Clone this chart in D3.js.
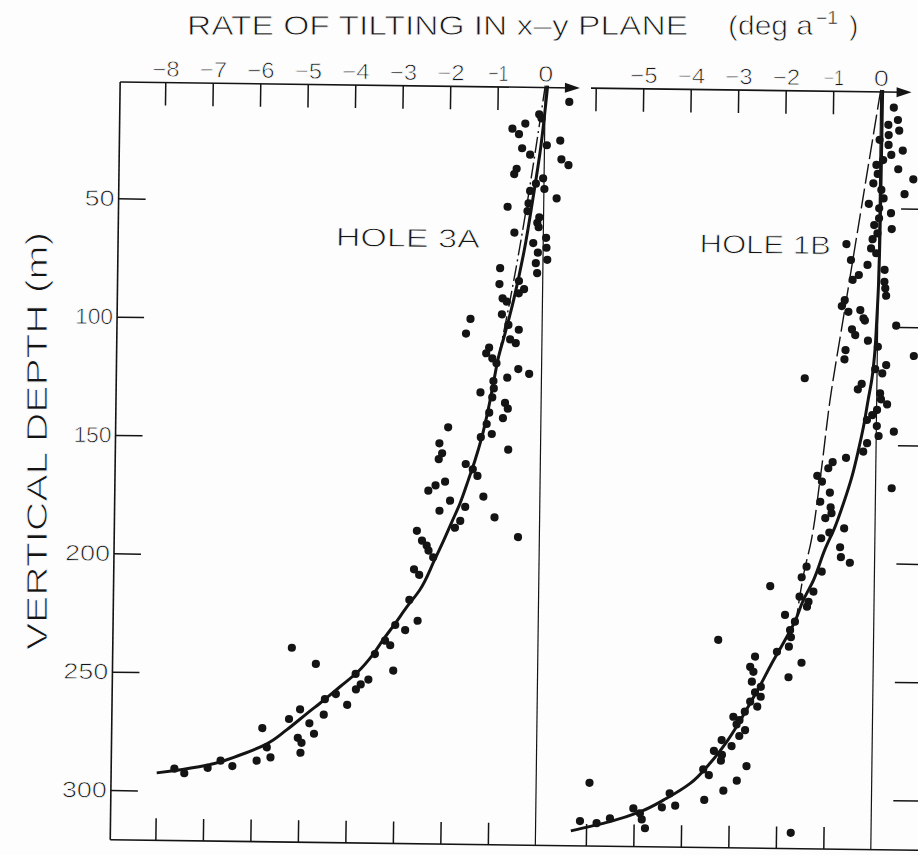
<!DOCTYPE html>
<html><head><meta charset="utf-8">
<script src="https://cdn.jsdelivr.net/npm/d3@7"></script>
<style>
body{margin:0;background:#fdfdfd}
svg{display:block}
text{font-family:"Liberation Sans",Arial,sans-serif;fill:#141414;stroke:#fdfdfd;stroke-width:0.8px}
</style>
</head><body>
<svg id="chart" width="918" height="855"></svg>
<script>
// ---- data: [rate of tilting (deg/a), vertical depth (m)] ----
const hole3A = [
[0.51,6.8],[-0.12,12.2],[-0.07,13.9],[-0.41,16.2],[-0.68,18.4],[-0.54,20.7],[0.33,23.2],[0.05,25.2],[-0.47,26.6],[-0.30,29.3],
[0.36,31.1],[0.51,33.5],[-0.58,35.3],[-0.63,37.6],[-0.02,39.2],[-0.17,41.5],[0.01,43.7],[-0.29,44.6],[0.27,47.6],[-0.32,49.8],
[-0.76,51.4],[-0.34,53.1],[-0.09,55.7],[-0.13,58.0],[-0.10,59.9],[-0.61,62.3],[0.06,64.3],[-0.21,66.6],[0.07,68.5],[-0.11,70.6],
[0.09,73.6],[-0.15,75.1],[-0.90,77.4],[-0.12,79.3],[-0.91,84.1],[-0.50,82.7],[-0.39,86.1],[-0.50,87.9],[-0.84,90.1],[-0.75,91.5],
[-1.51,99.0],[-1.60,105.2],[-0.85,96.9],[-0.71,101.3],[-0.49,103.3],[-0.67,107.4],[-0.55,109.0],[-1.11,111.0],[-1.17,113.4],[-1.04,115.5],
[-0.95,117.6],[-0.49,119.9],[-0.26,121.9],[-0.72,123.6],[-1.01,125.1],[-1.00,128.2],[-1.28,130.0],[-1.03,132.0],[-0.76,134.3],[-0.70,136.7],
[-1.09,138.5],[-0.80,140.7],[-1.14,143.3],[-1.95,144.9],[-1.03,147.5],[-1.26,148.9],[-2.13,151.7],[-0.68,154.0],[-2.07,155.9],[-2.14,158.4],
[-1.57,160.3],[-1.42,162.5],[-1.32,165.3],[-2.00,167.9],[-2.20,169.5],[-2.35,171.8],[-1.19,174.0],[-1.89,175.9],[-1.57,178.4],[-2.11,180.2],
[-0.95,182.7],[-1.67,184.4],[-1.78,187.3],[-2.58,188.8],[-2.47,192.9],[-2.37,195.0],[-0.45,190.9],[-2.33,197.1],[-2.23,199.9],
[-2.63,205.1],[-2.52,207.4],[-2.72,218.0],[-2.54,226.8],[-3.01,228.7],[-2.80,230.8],[-5.18,238.9],[-3.22,235.4],[-3.11,237.3],[-4.67,245.6],
[-3.04,248.0],[-3.43,241.1],[-3.83,249.6],[-3.56,251.9],[-3.72,254.0],[-3.82,256.1],[-4.24,258.2],[-4.47,260.4],[-4.00,262.7],[-4.99,264.9],
[-5.22,269.0],[-4.49,267.0],[-4.79,270.7],[-4.69,275.1],[-5.03,276.9],[-4.95,279.0],[-5.78,273.0],[-5.68,281.1],[-4.97,283.2],[-5.60,285.3],
[-5.89,286.8],[-6.40,289.2],[-6.65,287.0],[-6.92,290.1],[-7.62,290.6],[-7.41,292.5]
];
const hole1B = [
[0.28,7.4],[0.37,12.6],[0.17,14.7],[0.40,17.1],[0.18,19.0],[-0.01,21.1],[0.18,23.2],[0.48,25.5],[0.24,27.4],[0.07,29.6],
[-0.07,31.7],[0.39,33.4],[-0.04,35.5],[0.71,37.6],[-0.13,39.5],[0.53,43.9],[0.04,42.2],[0.09,45.8],[-0.22,48.2],[0.00,50.0],
[0.25,52.0],[0.00,54.2],[-0.10,57.1],[0.27,58.7],[-0.03,60.6],[-0.13,63.1],[-0.68,65.3],[-0.16,67.0],[-0.05,69.0],[-0.58,72.0],
[-0.23,74.0],[0.13,76.0],[-0.41,78.3],[-0.54,80.4],[0.13,81.0],[0.15,83.8],[0.17,86.9],[-0.70,89.0],[-0.76,91.5],[-0.62,93.9],
[-0.37,93.1],[-0.30,96.6],[-0.27,97.5],[0.39,99.5],[-0.54,101.3],[-0.47,103.7],[-0.20,106.0],[0.01,108.5],[0.77,112.2],[-0.67,110.1],
[-0.69,114.0],[0.19,116.2],[-0.04,118.0],[0.11,119.7],[-1.52,122.2],[-0.32,124.3],[-0.40,126.6],[0.07,128.2],[0.09,130.7],[0.22,132.8],
[0.01,135.2],[-0.09,137.4],[-0.20,139.5],[0.01,142.0],[0.37,144.3],[0.05,146.2],[-0.19,149.3],[-0.27,152.9],[-0.63,155.6],[-0.91,157.5],
[-1.00,160.1],[-1.23,163.4],[-1.13,165.8],[0.34,168.2],[-0.96,170.4],[-1.16,174.3],[-0.94,176.6],[-0.92,179.1],[-1.05,181.2],[-0.65,185.4],
[-0.96,187.3],[-1.13,189.7],[-0.73,193.4],[-0.71,197.6],[-0.52,199.9],[-1.43,201.8],[-1.11,203.8],[-1.53,206.3],
[-2.19,210.2],[-1.28,212.3],[-1.57,214.5],[-1.38,216.6],[-1.41,218.7],[-1.87,222.3],[-1.66,225.1],[-1.76,228.7],[-1.74,231.7],[-3.27,233.2],
[-1.78,235.7],[-2.03,237.9],[-2.49,240.1],[-2.59,244.4],[-2.52,246.5],[-1.51,242.4],[-1.78,248.6],[-2.55,250.7],[-2.36,252.8],[-2.48,255.2],
[-2.36,257.0],[-2.58,259.1],[-2.43,261.2],[-2.69,263.4],[-2.93,265.6],[-2.80,267.0],[-2.86,268.8],[-2.68,271.2],[-2.80,273.7],[-3.17,275.5],
[-2.96,278.0],[-3.33,280.1],[-3.16,281.8],[-3.18,284.2],[-2.64,286.4],[-3.55,288.0],[-3.43,290.4],[-2.84,292.6],[-5.94,294.3],[-3.12,296.9],
[-4.25,298.3],[-4.41,304.3],[-4.13,303.5],[-3.52,300.9],[-5.01,304.9],[-4.87,306.9],[-4.83,309.5],[-4.76,313.2],[-5.50,309.2],[-5.78,311.3],
[-6.13,310.5],[-1.69,314.3]
];
const curve3A = [
[0.05,0],[-0.09,28],[-0.23,48],[-0.40,70],[-0.61,91],[-0.78,105],[-0.91,115],[-1.01,126],[-1.11,137],[-1.24,149],
[-1.38,159],[-1.51,167],[-1.68,177],[-1.85,185],[-2.02,193],[-2.20,201],[-2.51,214],[-2.77,221],[-3.01,228],[-3.26,235],
[-3.46,241],[-3.80,249],[-4.15,255],[-4.50,261],[-4.84,266.5],[-5.26,273.5],[-5.67,279.5],[-6.24,284.5],[-6.94,289],[-7.64,291.5],[-7.99,292.5]
];
const curve1B = [
[0.04,0],[0.03,45],[0.01,80],[-0.02,97],[-0.05,110],[-0.11,122.6],[-0.18,131],[-0.27,142.3],[-0.37,152.2],[-0.50,163.5],
[-0.67,174.8],[-0.84,184.7],[-1.05,194.5],[-1.28,207.4],[-1.49,216],[-1.66,225],[-1.90,234.3],[-2.14,243],[-2.35,251.3],[-2.58,259.8],
[-2.82,268.4],[-3.09,277],[-3.41,285.4],[-3.82,294],[-4.31,300.4],[-4.87,306.3],[-5.50,310.6],[-6.32,314.7]
];
const linear3A = [[0,0],[-0.72,95],[-1.0,124]];
const linear1B = [[0,0],[-0.72,96],[-0.98,131],[-1.17,165],[-1.36,193],[-1.46,202],[-1.63,224]];

const ticks3A = [-8,-7,-6,-5,-4,-3,-2,-1];
const labels3A = [-8,-7,-6,-5,-4,-3,-2,-1,0];
const ticks1B = [-6,-5,-4,-3,-2,-1];
const labels1B = [-5,-4,-3,-2,-1,0];
const depthTicks = [50,100,150,200,250,300];
const fmt = v => v === 0 ? "0" : "\u2212" + Math.abs(v);

// ---- scales ----
const xL = d3.scaleLinear().domain([-8,0]).range([160.5,540.5]);
const xR = d3.scaleLinear().domain([-6,0]).range([591,876]);
const y  = d3.scaleLinear().domain([0,300]).range([85,795.1]);

const svg = d3.select("#chart");
svg.append("rect").attr("width",918).attr("height",855).attr("fill","#fdfdfd");

const g = svg.append("g").attr("transform","rotate(0.75,500,450)");
const topY = 87, botY = y(321);
const leftX = xL(-8.95), rightX = xR(1.05);
const ink = "#141414";

const charW = {"\u2212":12, "1":8};
const labelWidth = s => Array.from(s).reduce((a,c)=>a+(charW[c]||15),0);

// frame lines
g.append("line").attr("x1",leftX).attr("x2",leftX).attr("y1",topY).attr("y2",botY).attr("stroke",ink).attr("stroke-width",1.6);
g.append("line").attr("x1",leftX).attr("x2",rightX).attr("y1",botY).attr("y2",botY).attr("stroke",ink).attr("stroke-width",1.6);
g.append("line").attr("x1",rightX).attr("x2",rightX).attr("y1",topY).attr("y2",botY).attr("stroke",ink).attr("stroke-width",1.6);
[xL(0), xR(0)].forEach(x0 => g.append("line").attr("x1",x0).attr("x2",x0).attr("y1",topY).attr("y2",botY).attr("stroke",ink).attr("stroke-width",1.2));

function topAxis(x1, tip){
  g.append("line").attr("x1",x1).attr("x2",tip-6).attr("y1",topY).attr("y2",topY).attr("stroke",ink).attr("stroke-width",1.6);
  g.append("path").attr("d",`M${tip},${topY}L${tip-15},${topY-5}L${tip-15},${topY+5}Z`).attr("fill",ink);
}
topAxis(leftX, xL(0.73));
topAxis(xR(-6.1), xR(0.65));

function styleAxis(sel){
  sel.select(".domain").remove();
  sel.selectAll(".tick line").attr("stroke",ink).attr("stroke-width",1.5);
  sel.selectAll(".tick text").attr("fill",ink).style("font-size","22px")
    .style("font-family",'"Liberation Sans",Arial,sans-serif')
    .style("stroke","#fdfdfd").style("stroke-width","0.7px")
    .attr("textLength", function(){ return labelWidth(this.textContent); })
    .attr("lengthAdjust","spacingAndGlyphs");
}
g.append("g").attr("transform",`translate(0,${topY})`)
  .call(d3.axisTop(xL).tickValues(ticks3A).tickSizeInner(-23).tickFormat("")).call(styleAxis);
g.append("g").attr("transform",`translate(0,${topY})`)
  .call(d3.axisTop(xL).tickValues(labels3A).tickSize(0).tickPadding(6).tickFormat(fmt)).call(styleAxis);
g.append("g").attr("transform",`translate(0,${topY})`)
  .call(d3.axisTop(xR).tickValues(ticks1B).tickSizeInner(-23).tickFormat("")).call(styleAxis);
g.append("g").attr("transform",`translate(0,${topY})`)
  .call(d3.axisTop(xR).tickValues(labels1B).tickSize(0).tickPadding(6).tickFormat(fmt)).call(styleAxis);
g.append("g").attr("transform",`translate(0,${botY})`)
  .call(d3.axisBottom(xL).tickValues(ticks3A).tickSizeInner(-22).tickFormat("")).call(styleAxis);
g.append("g").attr("transform",`translate(0,${botY})`)
  .call(d3.axisBottom(xR).tickValues(ticks1B).tickSizeInner(-22).tickFormat("")).call(styleAxis);
g.append("g").attr("transform",`translate(${leftX},0)`)
  .call(d3.axisLeft(y).tickValues(depthTicks).tickSizeInner(-27).tickPadding(4).tickFormat(d3.format("d"))).call(styleAxis);
g.append("g").attr("transform",`translate(${rightX},0)`)
  .call(d3.axisRight(y).tickValues(depthTicks).tickSizeInner(-28).tickFormat("")).call(styleAxis);

// curves
const lineL = d3.line().x(d=>xL(d[0])).y(d=>y(d[1])).curve(d3.curveMonotoneY);
const lineR = d3.line().x(d=>xR(d[0])).y(d=>y(d[1])).curve(d3.curveMonotoneY);
g.append("path").attr("d",lineL(linear3A)).attr("fill","none").attr("stroke",ink).attr("stroke-width",1.4).attr("stroke-dasharray","16,4,2,4");
g.append("path").attr("d",lineR(linear1B)).attr("fill","none").attr("stroke",ink).attr("stroke-width",1.4).attr("stroke-dasharray","20,5");
g.append("path").attr("d",lineL(curve3A)).attr("fill","none").attr("stroke",ink).attr("stroke-width",3);
g.append("path").attr("d",lineR(curve1B)).attr("fill","none").attr("stroke",ink).attr("stroke-width",3);

// points
g.append("g").selectAll("circle").data(hole3A).join("circle")
  .attr("cx",d=>xL(d[0])).attr("cy",d=>y(d[1])).attr("r",4.1).attr("fill",ink);
g.append("g").selectAll("circle").data(hole1B).join("circle")
  .attr("cx",d=>xR(d[0])).attr("cy",d=>y(d[1])).attr("r",4.1).attr("fill",ink);

// hole labels
g.append("text").attr("x",333).attr("y",248).attr("textLength",144).attr("lengthAdjust","spacingAndGlyphs")
  .style("font-size","26px").text("HOLE 3A");
g.append("text").attr("x",697).attr("y",250).attr("textLength",131).attr("lengthAdjust","spacingAndGlyphs")
  .style("font-size","26px").text("HOLE 1B");

// titles
svg.append("text").attr("x",187).attr("y",35).attr("textLength",501).attr("lengthAdjust","spacingAndGlyphs")
  .style("font-size","28px").text("RATE OF TILTING IN x\u2013y PLANE");
svg.append("text").attr("x",728).attr("y",35).attr("textLength",85).attr("lengthAdjust","spacingAndGlyphs")
  .style("font-size","28px").text("(deg a");
svg.append("text").attr("x",816).attr("y",24).attr("textLength",22).attr("lengthAdjust","spacingAndGlyphs")
  .style("font-size","18px").style("stroke-width","0.5px").text("\u22121");
svg.append("text").attr("x",849).attr("y",35).style("font-size","28px").text(")");
svg.append("text").attr("transform","translate(47,441) rotate(-90)").attr("text-anchor","middle")
  .attr("textLength",418).attr("lengthAdjust","spacingAndGlyphs")
  .style("font-size","29px").text("VERTICAL DEPTH  (m)");
</script>
</body></html>
